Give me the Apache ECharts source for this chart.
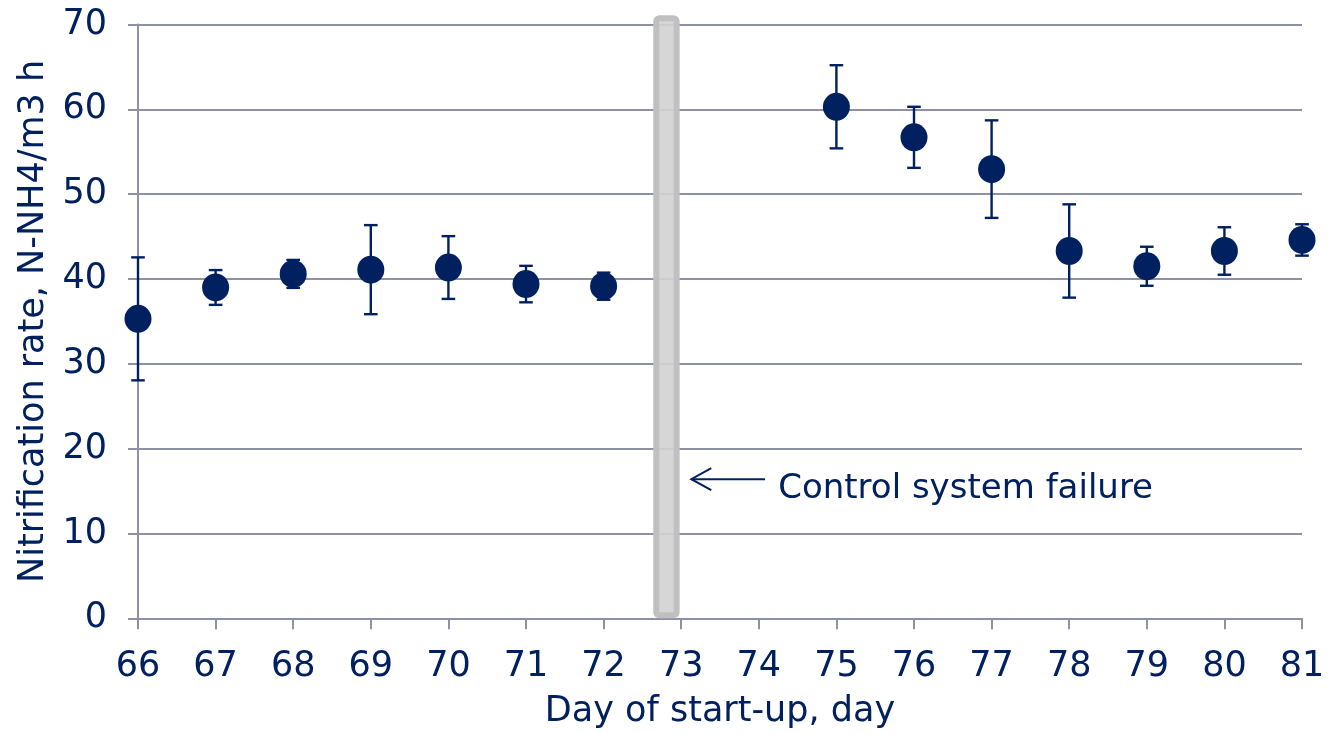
<!DOCTYPE html>
<html>
<head>
<meta charset="utf-8">
<script src="https://cdn.jsdelivr.net/npm/echarts@6/dist/echarts.min.js"></script>
<style>
  html, body { margin: 0; padding: 0; background: #ffffff; }
  #chart { width: 1340px; height: 734px; }
</style>
</head>
<body>
<div id="chart"></div>
<script>
// Nitrification rate during start-up (mean ± deviation per day)
const days   = [66, 67, 68, 69, 70, 71, 72, 75, 76, 77, 78, 79, 80, 81];
const rates  = [35.3, 39.0, 40.6, 41.1, 41.35, 39.4, 39.15, 60.3, 56.7, 52.95, 43.3, 41.5, 43.3, 44.6];
const errors = [7.25, 2.05, 1.65, 5.25, 3.7, 2.15, 1.6, 4.9, 3.6, 5.75, 5.5, 2.3, 2.8, 1.85];

// Period of the control system failure (day range and band height)
const failureDays = [72.64, 72.98];
const failureTop = 71.1;

// Annotation anchors in data units
const noteText = 'Control system failure';
const noteArrowFrom = [74.08, 16.4];
const noteArrowTo = [73.13, 16.4];
const notePos = [74.25, 15.2];

const NAVY = '#002060';
const GRID = '#8e91a3';
const FONT = 'DejaVu Sans';
const FS = 35;

const chart = echarts.init(document.getElementById('chart'), null, { renderer: 'canvas' });

const option = {
  backgroundColor: '#ffffff',
  animation: false,
  grid: { left: 138, right: 38, top: 24.5, bottom: 115.7, containLabel: false, outerBoundsMode: 'none' },
  xAxis: {
    type: 'value',
    min: 66, max: 81, interval: 1,
    name: 'Day of start-up, day',
    nameLocation: 'middle',
    nameGap: 76,
    nameTextStyle: { color: NAVY, fontFamily: FONT, fontSize: FS },
    axisLine: { show: true, onZero: false, lineStyle: { color: GRID, width: 2 } },
    axisTick: { show: true, length: 11, lineStyle: { color: GRID, width: 2 } },
    axisLabel: { color: NAVY, fontFamily: FONT, fontSize: FS, margin: 31, showMinLabel: true, showMaxLabel: true },
    splitLine: { show: false }
  },
  yAxis: {
    type: 'value',
    min: 0, max: 70, interval: 10,
    name: 'Nitrification rate, N-NH4/m3 h',
    nameLocation: 'middle',
    nameGap: 80,
    nameTextStyle: { color: NAVY, fontFamily: FONT, fontSize: FS },
    axisLine: { show: true, lineStyle: { color: GRID, width: 2 } },
    axisTick: { show: true, length: 10, lineStyle: { color: GRID, width: 2 } },
    axisLabel: { color: NAVY, fontFamily: FONT, fontSize: FS, margin: 31 },
    splitLine: { show: true, lineStyle: { color: GRID, width: 2 } }
  },
  series: [
    {
      // grey band marking the failure period
      type: 'custom',
      clip: false,
      z: 3,
      data: [[failureDays[0], failureDays[1], failureTop]],
      renderItem: function (params, api) {
        const a = api.coord([api.value(0), failureTop]);
        const b = api.coord([api.value(1), 0]);
        const lw = 6;
        return {
          type: 'rect',
          shape: { x: a[0] + lw / 2, y: a[1] + lw / 2, width: b[0] - a[0] - lw, height: b[1] - a[1] - lw, r: 3 },
          style: { fill: 'rgba(210,210,210,0.92)', stroke: '#c0c0c0', lineWidth: lw }
        };
      }
    },
    {
      // error bars
      type: 'custom',
      z: 4,
      data: days.map((d, i) => [d, rates[i], errors[i]]),
      renderItem: function (params, api) {
        const x = api.value(0), y = api.value(1), e = api.value(2);
        const hi = api.coord([x, y + e]);
        const lo = api.coord([x, y - e]);
        const cap = 6.8;
        const st = { stroke: NAVY, lineWidth: 2.4 };
        return {
          type: 'group',
          children: [
            { type: 'line', shape: { x1: hi[0], y1: hi[1], x2: lo[0], y2: lo[1] }, style: st },
            { type: 'line', shape: { x1: hi[0] - cap, y1: hi[1], x2: hi[0] + cap, y2: hi[1] }, style: st },
            { type: 'line', shape: { x1: lo[0] - cap, y1: lo[1], x2: lo[0] + cap, y2: lo[1] }, style: st }
          ]
        };
      }
    },
    {
      // mean values
      type: 'scatter',
      z: 5,
      symbol: 'circle',
      symbolSize: [27, 28],
      itemStyle: { color: NAVY, opacity: 1 },
      data: days.map((d, i) => [d, rates[i]])
    },
    {
      // annotation: arrow and label
      type: 'custom',
      clip: false,
      z: 6,
      data: [[0]],
      renderItem: function (params, api) {
        const p0 = api.coord(noteArrowFrom);
        const p1 = api.coord(noteArrowTo);
        const t = api.coord(notePos);
        const st = { stroke: NAVY, lineWidth: 2, fill: null };
        return {
          type: 'group',
          children: [
            { type: 'line', shape: { x1: p0[0], y1: p0[1], x2: p1[0], y2: p1[1] }, style: st },
            { type: 'polyline', shape: { points: [[p1[0] + 20, p1[1] - 11], [p1[0], p1[1]], [p1[0] + 20, p1[1] + 11]] }, style: st },
            { type: 'text', style: { text: noteText, x: t[0], y: t[1], fill: NAVY, font: '34px "' + FONT + '"', textAlign: 'left', textVerticalAlign: 'middle', verticalAlign: 'middle' } }
          ]
        };
      }
    }
  ]
};

chart.setOption(option);
</script>
</body>
</html>
